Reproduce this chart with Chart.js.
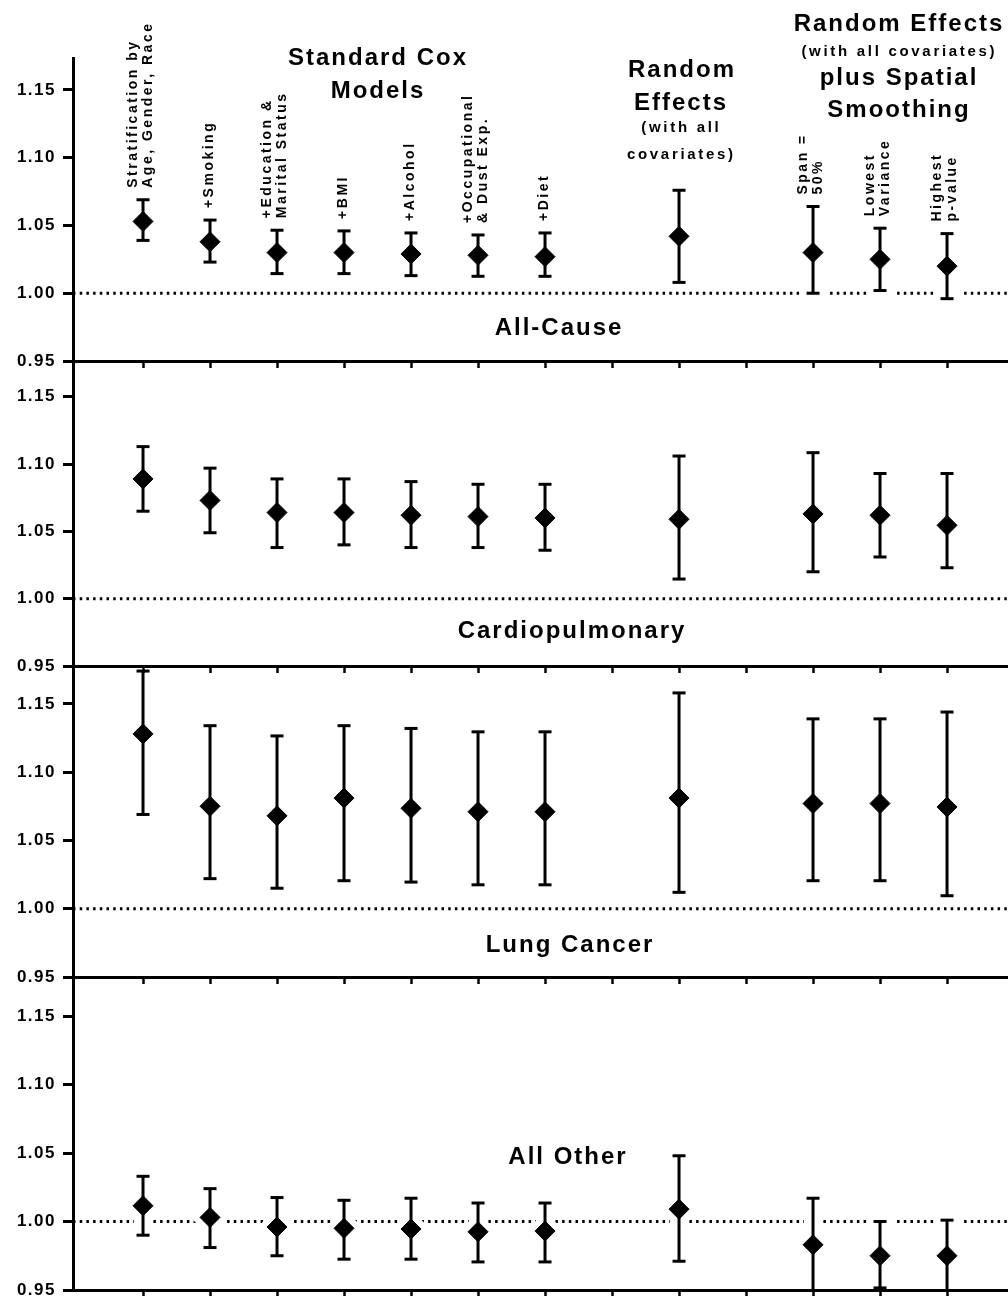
<!DOCTYPE html>
<html>
<head>
<meta charset="utf-8">
<script src="https://cdn.jsdelivr.net/npm/chart.js@4.4.1/dist/chart.umd.min.js"></script>
<style>
html,body{margin:0;padding:0;background:#fff;width:1008px;height:1296px;overflow:hidden;}
.p{position:absolute;left:0;width:1008px;}
canvas{display:block;}
</style>
</head>
<body>
<div class="p" style="top:0px;z-index:4"><canvas id="c0" width="1008" height="369"></canvas></div>
<div class="p" style="top:361px;z-index:3"><canvas id="c1" width="1008" height="313"></canvas></div>
<div class="p" style="top:666px;z-index:2"><canvas id="c2" width="1008" height="319"></canvas></div>
<div class="p" style="top:977px;z-index:1"><canvas id="c3" width="1008" height="321"></canvas></div>
<script>
// ---------------- data ----------------
const categories = ['Stratification by Age, Gender, Race', '+Smoking', '+Education & Marital Status', '+BMI', '+Alcohol',
  '+Occupational & Dust Exp.', '+Diet', 'Random Effects (with all covariates)', 'Span = 50%', 'Lowest Variance', 'Highest p-value'];
const xPositions = [1, 2, 3, 4, 5, 6, 7, 9, 11, 12, 13];
const xTicks = [1, 2, 3, 4, 5, 6, 7, 8, 9, 10, 11, 12, 13];
const yTicks = [0.95, 1.00, 1.05, 1.10, 1.15];
const yTickLabels = ['0.95', '1.00', '1.05', '1.10', '1.15'];
const panelTitles = ['All-Cause', 'Cardiopulmonary', 'Lung Cancer', 'All Other'];
const rotatedLabels = [['Stratification by', 'Age, Gender, Race'], ['+Smoking'], ['+Education &', 'Marital Status'], ['+BMI'],
  ['+Alcohol'], ['+Occupational', '& Dust Exp.'], ['+Diet'], [], ['Span =', '50%'], ['Lowest', 'Variance'], ['Highest', 'p-value']];
const headingLines = ['Standard Cox', 'Models', 'Random', 'Effects', '(with all', 'covariates)',
  'Random Effects', '(with all covariates)', 'plus Spatial', 'Smoothing'];

const allCauseHR = [1.053, 1.038, 1.030, 1.030, 1.029, 1.028, 1.027, 1.042, 1.030, 1.025, 1.020];
const allCauseLo = [1.039, 1.023, 1.0145, 1.0145, 1.013, 1.0125, 1.0125, 1.008, 1.000, 1.002, 0.996];
const allCauseHi = [1.069, 1.054, 1.0465, 1.046, 1.0445, 1.043, 1.0445, 1.076, 1.064, 1.048, 1.044];

const cardioHR = [1.089, 1.073, 1.064, 1.064, 1.062, 1.061, 1.060, 1.059, 1.063, 1.062, 1.0545];
const cardioLo = [1.065, 1.049, 1.038, 1.040, 1.038, 1.038, 1.036, 1.0146, 1.020, 1.031, 1.023];
const cardioHi = [1.113, 1.097, 1.089, 1.089, 1.087, 1.085, 1.085, 1.106, 1.1085, 1.093, 1.093];

const lungHR = [1.128, 1.075, 1.068, 1.081, 1.0735, 1.071, 1.071, 1.081, 1.077, 1.077, 1.0745];
const lungLo = [1.069, 1.022, 1.015, 1.0205, 1.0195, 1.0175, 1.0175, 1.012, 1.0205, 1.0205, 1.0095];
const lungHi = [1.174, 1.134, 1.1265, 1.134, 1.132, 1.1295, 1.1295, 1.158, 1.139, 1.139, 1.144];

const otherHR = [1.0115, 1.003, 0.996, 0.995, 0.9945, 0.9925, 0.993, 1.009, 0.983, 0.975, 0.975];
const otherLo = [0.990, 0.981, 0.975, 0.9725, 0.9725, 0.9705, 0.9705, 0.971, 0.940, 0.9515, 0.940];
const otherHi = [1.033, 1.024, 1.0175, 1.0155, 1.017, 1.0135, 1.0135, 1.048, 1.017, 1.000, 1.001];

const referenceValue = 1.00;

// ---------------- layout ----------------
const FONT = "'Liberation Sans', Arial, Helvetica, sans-serif";
const X_MIN = -0.045, X_MAX = 13.91;
const panels = [
  {hr: allCauseHR, lo: allCauseLo, hi: allCauseHi, padTop: 58, yMax: 1.1736, titleX: 558, titleVal: 0.969},
  {hr: cardioHR, lo: cardioLo, hi: cardioHi, padTop: 0, yMax: 1.1766, titleX: 571, titleVal: 0.971},
  {hr: lungHR, lo: lungLo, hi: lungHi, padTop: 0, yMax: 1.1777, titleX: 569, titleVal: 0.9685},
  {hr: otherHR, lo: otherLo, hi: otherHi, padTop: 0, yMax: 1.1785, titleX: 567, titleVal: 1.042}
];

function drawCentered(ctx, text, x, y, size, spacing) {
  ctx.font = 'bold ' + size + 'px ' + FONT;
  ctx.letterSpacing = spacing + 'px';
  ctx.textAlign = 'center';
  ctx.textBaseline = 'alphabetic';
  ctx.fillText(text, x + spacing / 2, y);
}

function makeTextPlugin(pi) {
  return {
    id: 'texts' + pi,
    beforeDraw(chart) { chart.ctx.letterSpacing = '1.5px'; },
    afterDraw(chart) {
      const ctx = chart.ctx;
      const xs = chart.scales.x, ys = chart.scales.y;
      const p = panels[pi];
      ctx.save();
      ctx.fillStyle = '#000';
      drawCentered(ctx, panelTitles[pi], p.titleX, ys.getPixelForValue(p.titleVal), 24, 2);
      if (pi === 0) {
        const pos = [[377, 65, 24, 2], [377, 98, 24, 2], [681, 77, 24, 2], [680, 110, 24, 2],
          [680, 132, 15, 2.7], [680, 159, 15, 2.7], [898, 31, 24, 2], [898, 56, 15, 2.7],
          [898, 85, 24, 2], [898, 117, 24, 2]];
        headingLines.forEach((t, i) => drawCentered(ctx, t, pos[i][0], pos[i][1], pos[i][2], pos[i][3]));
        // rotated column labels
        ctx.font = 'bold 14px ' + FONT;
        ctx.letterSpacing = '2.5px';
        ctx.textAlign = 'left';
        ctx.textBaseline = 'middle';
        rotatedLabels.forEach((lines, i) => {
          if (!lines.length) return;
          const x = xs.getPixelForValue(xPositions[i]) - (lines.length > 1 ? 2 : 1);
          const yb = ys.getPixelForValue(p.hi[i]) - 12;
          const n = lines.length;
          lines.forEach((ln, k) => {
            const off = (k - (n - 1) / 2) * 15;
            ctx.save();
            ctx.translate(x + off, yb);
            ctx.rotate(-Math.PI / 2);
            ctx.fillText(ln, 0, 0);
            ctx.restore();
          });
        });
      }
      ctx.restore();
    }
  };
}

function buildPanel(pi) {
  const p = panels[pi];
  const whisk = [], caps = [], pts = [];
  xPositions.forEach((x, i) => {
    whisk.push({x: x, y: p.lo[i]}, {x: x, y: p.hi[i]}, {x: x, y: null});
    caps.push({x: x, y: p.lo[i]}, {x: x, y: p.hi[i]});
    pts.push({x: x, y: p.hr[i]});
  });
  const refLine = [{x: X_MIN, y: referenceValue}, {x: X_MAX, y: referenceValue}];
  const common = {clip: 0};
  const datasets = [
    Object.assign({type: 'line', data: refLine, borderColor: '#000', borderWidth: 3, borderDash: [2.5, 4.2],
      borderCapStyle: 'butt', pointRadius: 0, showLine: true, order: 10}, common),
    Object.assign({type: 'line', data: whisk, borderColor: '#fff', borderWidth: 18, pointRadius: 0,
      showLine: true, spanGaps: false, borderCapStyle: 'butt', order: 9}, common),
    Object.assign({type: 'scatter', data: caps, pointStyle: 'line', pointRadius: 13, borderColor: '#fff',
      backgroundColor: '#fff', pointBorderWidth: 17, order: 8}, common),
    Object.assign({type: 'scatter', data: pts, pointStyle: 'rectRot', pointRadius: 9.5, borderColor: '#fff',
      backgroundColor: '#fff', pointBorderWidth: 14, order: 7}, common),
    Object.assign({type: 'line', data: whisk, borderColor: '#000', borderWidth: 3, pointRadius: 0,
      showLine: true, spanGaps: false, borderCapStyle: 'butt', order: 3}, common),
    Object.assign({type: 'scatter', data: caps, pointStyle: 'line', pointRadius: 6.5, borderColor: '#000',
      backgroundColor: '#000', pointBorderWidth: 3, order: 2}, common),
    Object.assign({type: 'scatter', data: pts, pointStyle: 'rectRot', pointRadius: 10, borderColor: '#000',
      backgroundColor: '#000', pointBorderWidth: 1, order: 1}, common)
  ];
  return new Chart(document.getElementById('c' + pi), {
    type: 'scatter',
    data: {datasets: datasets},
    options: {
      responsive: false,
      animation: false,
      devicePixelRatio: 1,
      events: [],
      layout: {autoPadding: false, padding: {top: p.padTop, left: 0, right: 0, bottom: 0}},
      plugins: {legend: {display: false}, tooltip: {enabled: false}, title: {display: false}},
      scales: {
        x: {
          type: 'linear', position: 'bottom', min: X_MIN, max: X_MAX,
          afterBuildTicks: s => { s.ticks = xTicks.map(v => ({value: v})); },
          afterFit: s => { s.height = 8; s.paddingLeft = 0; s.paddingRight = 0; },
          ticks: {display: false, z: 1},
          grid: {display: true, drawOnChartArea: false, drawTicks: true, tickLength: 7, tickWidth: 2.5, tickColor: '#000', z: 1},
          border: {display: true, color: '#000', width: 3, z: 2}
        },
        y: {
          type: 'linear', position: 'left', min: 0.95, max: p.yMax,
          afterBuildTicks: s => { s.ticks = yTicks.map(v => ({value: v})); },
          afterFit: s => { s.width = 73; s.paddingTop = 0; s.paddingBottom = 0; },
          ticks: {
            z: 1, color: '#000', padding: 7,
            font: {family: FONT, size: 17, weight: 'bold'},
            callback: (v, i) => yTickLabels[i]
          },
          grid: {display: true, drawOnChartArea: false, drawTicks: true, tickLength: 10, tickWidth: 3, tickColor: '#000', z: 1},
          border: {display: true, color: '#000', width: 3, z: 2}
        }
      }
    },
    plugins: [makeTextPlugin(pi)]
  });
}

[0, 1, 2, 3].forEach(buildPanel);
</script>
</body>
</html>
